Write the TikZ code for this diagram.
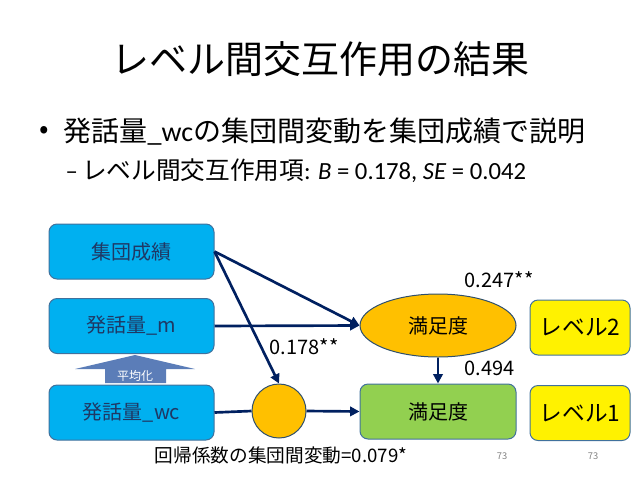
\documentclass[tikz,border=0pt]{standalone}
\usepackage{fontspec}
\setmainfont{Noto Sans CJK JP}
\newfontfamily\latfont{Carlito}
\usetikzlibrary{shapes.geometric,arrows.meta}
\definecolor{boxblue}{HTML}{00B0F0}
\definecolor{boxedge}{HTML}{41719C}
\definecolor{navy}{HTML}{002060}
\definecolor{textnavy}{HTML}{1F3864}
\definecolor{satorange}{HTML}{FFC000}
\definecolor{satgreen}{HTML}{92D050}
\definecolor{avgblue}{HTML}{5B7DB8}

\begin{document}
\begin{tikzpicture}[x=0.75pt, y=-0.75pt,
  bluebox/.style={rectangle, rounded corners=6pt, draw=boxedge, line width=0.75pt, fill=boxblue, text=textnavy, minimum width=123.75pt, minimum height=41.25pt, font=\fontsize{15}{18}\selectfont},
  ovalnode/.style={ellipse, draw=boxedge!70!black, line width=0.75pt, fill=satorange, minimum width=117pt, minimum height=47.25pt, font=\fontsize{15}{18}\selectfont},
  greenbox/.style={rectangle, rounded corners=6pt, draw=boxedge, line width=0.75pt, fill=satgreen, minimum width=117pt, minimum height=41.25pt, font=\fontsize{15}{18}\selectfont},
  levelbox/.style={rectangle, rounded corners=6pt, draw=boxedge, line width=0.75pt, fill=yellow, minimum width=75pt, minimum height=41.25pt, font=\fontsize{17}{20}\selectfont},
  roundnode/.style={circle, draw=boxedge!70!black, line width=0.75pt, fill=satorange, minimum size=40.5pt, inner sep=0pt},
  coef/.style={anchor=west, font=\fontsize{15}{18}\selectfont},
  path/.style={draw=navy, line width=2pt},
  ]

\useasboundingbox (0,0) rectangle (638,479);

\node (title) at (320,59) {\fontsize{28.5}{32}\selectfont レベル間交互作用の結果};
\node[anchor=west] (dot) at (35,132) {\fontsize{21}{24}\selectfont •};
\node[anchor=west] (bullet) at (59,132) {\fontsize{21}{24}\selectfont 発話量{\latfont\_wc}の集団間変動を集団成績で説明};
\node[anchor=west] (sub) at (61,171) {\fontsize{18.5}{22}\selectfont {\latfont –\,}レベル間交互作用項{\latfont : \textit{B} = 0.178, \textit{SE} = 0.042}};

\node[bluebox] (score) at (131.5,251.5) {集団成績};
\node[bluebox] (talkm) at (131.5,326) {発話量\_m};
\node[bluebox] (talkwc) at (131.5,412.5) {発話量\_wc};

\fill[avgblue] (75,369) -- (135,355) -- (195,369) -- (166,369) -- (166,383) -- (105,383) -- (105,369) -- cycle;
\node[text=white, font=\fontsize{9}{10}\selectfont] (avg) at (135,376) {平均化};

\node[roundnode] (mid) at (279,411) {};
\node[ovalnode] (sat2) at (438,325.5) {満足度};
\node[greenbox] (sat1) at (438,411.5) {満足度};

\node[levelbox] (lv2) at (580,327.5) {レベル2};
\node[levelbox] (lv1) at (580,413) {レベル1};

\node[coef] (c247) at (460,280) {0.247**};
\node[coef] (c178) at (265,347) {0.178**};
\node[coef] (c494) at (460,368) {0.494};
\node[anchor=west, font=\fontsize{14}{16}\selectfont] (note) at (150,455) {回帰係数の集団間変動=0.079*};
\node[text=gray, font=\fontsize{7}{8}\selectfont] (pg1) at (502,456) {73};
\node[text=gray, font=\fontsize{7}{8}\selectfont] (pg2) at (593,456) {73};

\draw[path, -{Triangle[length=7pt,width=7pt]}] (score.east) -- (sat2.west);
\draw[path, -{Triangle[length=7pt,width=7pt]}] (talkm.east) -- (sat2.west);
\draw[path, -{Triangle[length=7pt,width=7pt]}] (score.east) -- (mid.north);
\draw[path] (talkwc.east) -- (mid.west);
\draw[path, -{Triangle[length=7pt,width=7pt]}] (mid.east) -- (sat1.west);
\draw[path, -{Triangle[length=7pt,width=7pt]}] (sat2.south) -- (sat1.north);

\end{tikzpicture}
\end{document}
